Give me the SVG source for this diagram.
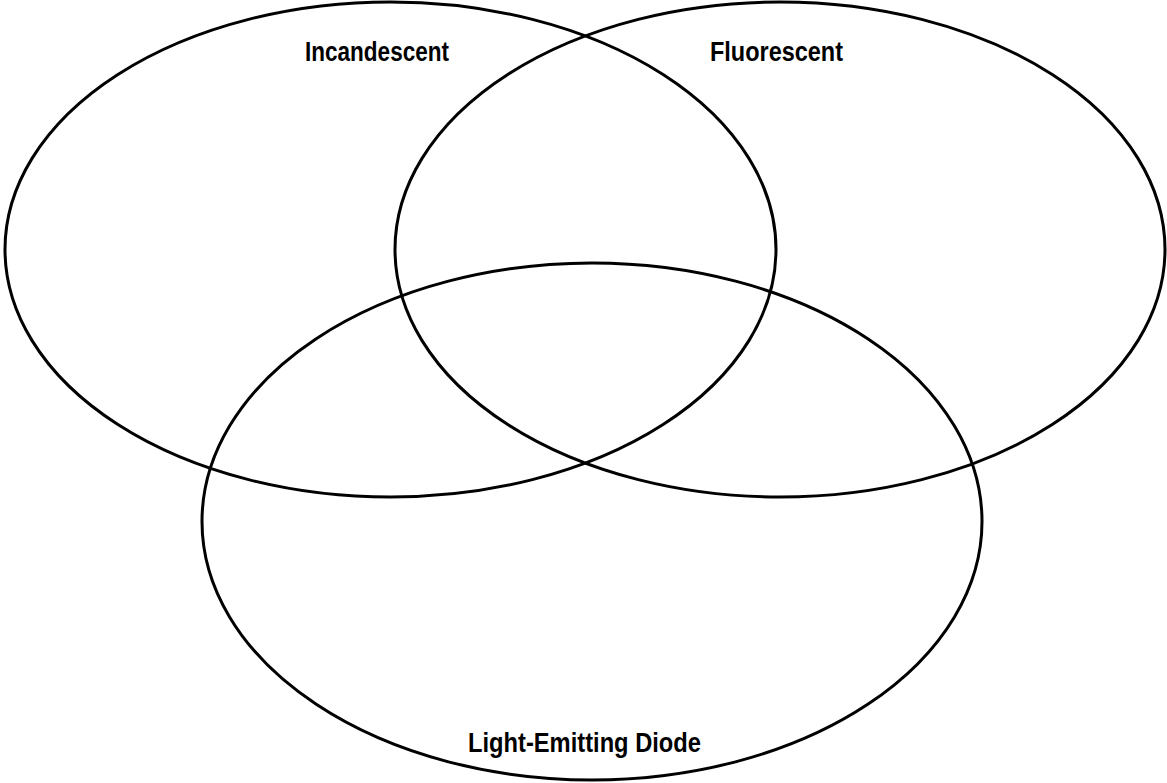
<svg xmlns="http://www.w3.org/2000/svg" width="1167" height="783" viewBox="0 0 1167 783">
<style>
.set{fill:none;stroke:#000;stroke-width:3}
.lbl{font-family:"Liberation Sans",Arial,sans-serif;font-weight:bold;font-size:27.5px;fill:#000}
</style>
<rect width="1167" height="783" fill="#fff"/>
<g id="incandescent">
<ellipse class="set" cx="390.5" cy="249.5" rx="385.5" ry="247.5"/>
<text class="lbl" x="305" y="61" textLength="144" lengthAdjust="spacingAndGlyphs">Incandescent</text>
</g>
<g id="fluorescent">
<ellipse class="set" cx="780" cy="249.5" rx="385" ry="247.5"/>
<text class="lbl" x="710" y="61" textLength="133" lengthAdjust="spacingAndGlyphs">Fluorescent</text>
</g>
<g id="led">
<ellipse class="set" cx="592" cy="521.5" rx="390" ry="258.5"/>
<text class="lbl" x="468" y="752" textLength="233" lengthAdjust="spacingAndGlyphs">Light-Emitting Diode</text>
</g>
<g id="connectors"/>
</svg>
